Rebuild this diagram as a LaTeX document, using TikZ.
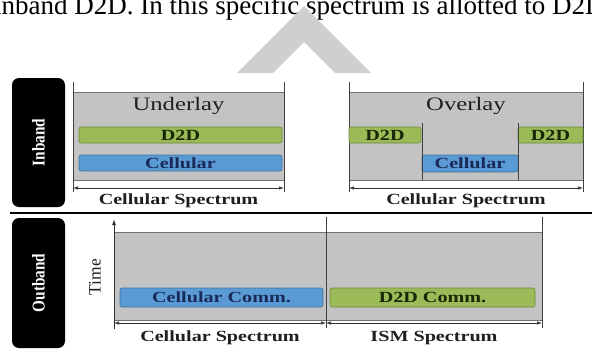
\documentclass[tikz,border=0pt]{standalone}
\usepackage{fontspec}
\setmainfont{Liberation Serif}
\newfontfamily\widefont[FakeStretch=1.3]{Liberation Serif}
\newfontfamily\narrowfont[FakeStretch=0.85]{Liberation Serif}
\usetikzlibrary{arrows.meta}
\definecolor{panelgrey}{HTML}{C3C3C3}
\definecolor{edgegrey}{HTML}{707070}
\definecolor{dtwo}{HTML}{9BBB59}
\definecolor{dtwoedge}{HTML}{6E8A3A}
\definecolor{cell}{HTML}{5B9BD5}
\definecolor{celledge}{HTML}{41719C}
\definecolor{navy}{HTML}{1A2A58}
\definecolor{olive}{HTML}{1A2606}
\definecolor{wmark}{HTML}{CFCFCF}
\tikzset{
  panel/.style={fill=panelgrey, draw=edgegrey, line width=0.8pt},
  dbar/.style={fill=dtwo, draw=dtwoedge, line width=0.6pt, rounded corners=2pt},
  cbar/.style={fill=cell, draw=celledge, line width=0.6pt, rounded corners=2pt},
  vline/.style={draw=black!75, line width=1pt},
  dim/.style={draw=black!80, line width=0.7pt, {Latex[length=5pt,width=3.5pt]}-{Latex[length=5pt,width=3.5pt]}},
  bandbox/.style={fill=black, rounded corners=7pt},
  bandtxt/.style={text=white, font=\narrowfont\bfseries\fontsize{18}{18}\selectfont, rotate=90},
  titletxt/.style={text=black!88, font=\widefont\fontsize{19}{19}\selectfont},
  bartxt/.style={font=\widefont\bfseries\fontsize{15.5}{15.5}\selectfont},
  spectxt/.style={text=black!88, font=\widefont\bfseries\fontsize{15.5}{15.5}\selectfont},
}
\begin{document}
\begin{tikzpicture}[x=1pt,y=-1pt]
\useasboundingbox (0,0) rectangle (592,351);
\begin{scope}
\clip (0,0) rectangle (592,351);
\node[anchor=base west, inner sep=0, font=\fontsize{27}{27}\selectfont] (toptext) at (-6,14) {inband D2D. In this specific spectrum is allotted to D2D};
\end{scope}
% watermark chevron
\fill[wmark] (237,73) -- (304,6) -- (371,73) -- (335,73) -- (304,42) -- (273,73) -- cycle;

% Inband / Outband boxes
\fill[bandbox] (12,78) rectangle (65,207);
\node[bandtxt] (inband) at (38.5,142.5) {Inband};
\fill[bandbox] (12,218) rectangle (65,348);
\node[bandtxt] (outband) at (38.5,283) {Outband};

% separator
\draw[line width=2.6pt] (10,213) -- (592,213);

% ---------- Underlay ----------
\fill[panel] (73,92) rectangle (284,180);
\draw[vline] (73,82) -- (73,192);
\draw[vline] (284,82) -- (284,192);
\node[titletxt] (underlay) at (178.5,106) {Underlay};
\draw[dbar] (79,127) rectangle (282,143);
\node[bartxt, text=olive] (ud2d) at (180.5,135) {D2D};
\draw[cbar] (79,155) rectangle (282,171);
\node[bartxt, text=navy] (ucell) at (180.5,163) {Cellular};
\coordinate (ua) at (73,188);
\coordinate (ub) at (284,188);
\draw[dim] (ua) -- (ub);
\node[spectxt] (uspec) at (178.5,200.5) {Cellular Spectrum};

% ---------- Overlay ----------
\fill[panel] (349,92) rectangle (583,180);
\draw[vline] (349,82) -- (349,192);
\draw[vline] (583,82) -- (583,192);
\node[titletxt] (overlay) at (466,106) {Overlay};
\draw[dbar] (349,127) rectangle (421,143);
\node[bartxt, text=olive] (od2da) at (385,135) {D2D};
\draw[dbar] (518,127) rectangle (583,143);
\node[bartxt, text=olive] (od2db) at (550.5,135) {D2D};
\draw[cbar] (422,155) rectangle (518,172);
\node[bartxt, text=navy] (ocell) at (470,163.5) {Cellular};
\draw[vline] (422,123) -- (422,180);
\draw[vline] (518,123) -- (518,180);
\coordinate (oa) at (349,188);
\coordinate (ob) at (583,188);
\draw[dim] (oa) -- (ob);
\node[spectxt] (ospec) at (466,200.5) {Cellular Spectrum};

% ---------- Outband ----------
\fill[panel] (114,232) rectangle (542,320);
\coordinate (tbot) at (114,329);
\coordinate (ttop) at (114,219);
\draw[draw=black!80, line width=1pt, -{Latex[length=6pt,width=4pt]}] (tbot) -- (ttop);
\node[rotate=90, text=black!88, font=\fontsize{17.5}{17.5}\selectfont] (time) at (95,277) {Time};
\draw[vline] (326,217) -- (326,328);
\draw[vline] (542,217) -- (542,328);
\draw[cbar] (120,288) rectangle (323,307);
\node[bartxt, text=navy] (ccomm) at (221.5,297.5) {Cellular Comm.};
\draw[dbar] (330,288) rectangle (535,307);
\node[bartxt, text=olive] (dcomm) at (432.5,297.5) {D2D Comm.};
\coordinate (la) at (114,323);
\coordinate (lb) at (326,323);
\coordinate (lc) at (542,323);
\draw[dim] (la) -- (lb);
\draw[dim] (lb) -- (lc);
\node[spectxt] (lspec) at (220,338) {Cellular Spectrum};
\node[spectxt] (ispec) at (434,338) {ISM Spectrum};
\end{tikzpicture}
\end{document}
